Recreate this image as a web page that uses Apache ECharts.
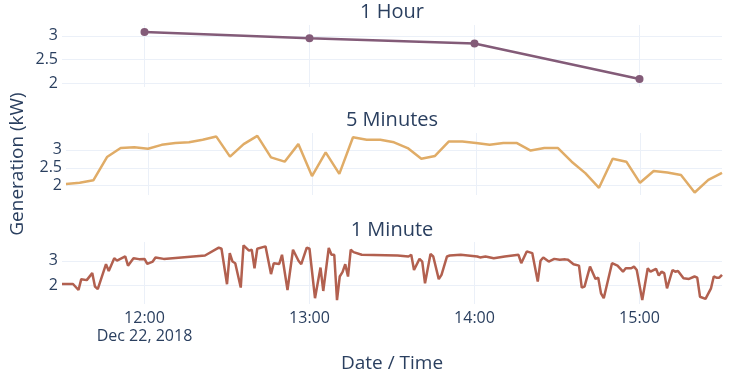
<!DOCTYPE html>
<html>
<head>
<meta charset="utf-8">
<script src="https://cdn.jsdelivr.net/npm/echarts@6/dist/echarts.min.js"></script>
<style>
  html, body { margin: 0; padding: 0; background: #fff; }
  #chart { width: 747px; height: 374px; }
</style>
</head>
<body>
<div id="chart"></div>
<script>
// readings, Dec 22 2018
const subplotTitles = ['1 Hour', '5 Minutes', '1 Minute']
const hourTicks = ['12:00', '13:00', '14:00', '15:00']

// hourly averages
const hourValues = [3.08, 2.95, 2.84, 2.09]

// 5 minute averages, 11:30 -> 15:30
const fiveMinValues = [
  2.05, 2.08, 2.15, 2.80, 3.05, 3.07, 3.03, 3.14, 3.19, 3.21, 3.28, 3.37,
  2.81, 3.16, 3.39, 2.79, 2.67, 3.16, 2.27, 2.93, 2.33, 3.35, 3.28, 3.28,
  3.21, 3.05, 2.75, 2.83, 3.23, 3.23, 3.19, 3.14, 3.19, 3.19, 2.98, 3.05,
  3.05, 2.67, 2.35, 1.94, 2.75, 2.67, 2.08, 2.41, 2.37, 2.30, 1.81, 2.16,
  2.36
]

// 1 minute readings: [minutes after 11:30, kW]
const oneMinReadings = [
  [0, 2.04], [4, 2.04], [6, 1.79], [7, 2.24], [9, 2.20], [11, 2.49], [12, 1.93], [13, 1.83],
  [16, 2.86], [17, 2.58], [19, 3.11], [20, 3.01], [23, 3.18], [24, 2.80], [26, 3.11], [28, 3.07],
  [30, 3.08], [31, 2.87], [33, 2.97], [34, 3.14], [37, 3.08], [52, 3.22], [57, 3.55], [58, 3.50],
  [60, 2.03], [61, 3.32], [62, 2.97], [63, 2.90], [65, 1.89], [66, 3.64], [68, 3.42], [69, 3.46],
  [70, 2.69], [71, 3.50], [74, 3.60], [76, 2.45], [77, 2.90], [79, 2.87], [80, 3.25], [82, 1.79],
  [84, 3.46], [86, 3.00], [87, 2.86], [89, 3.55], [90, 3.50], [92, 1.45], [94, 2.72], [95, 1.75],
  [97, 3.53], [98, 3.25], [99, 3.25], [100, 1.37], [101, 2.35], [102, 2.53], [103, 2.86], [104, 2.35],
  [105, 3.46], [106, 3.36], [109, 3.25], [122, 3.22], [126, 3.18], [127, 3.25], [128, 2.62], [130, 3.08],
  [131, 2.97], [132, 2.07], [134, 3.28], [135, 3.18], [137, 2.24], [138, 2.42], [140, 3.18], [141, 3.22],
  [145, 3.25], [151, 3.18], [152, 3.14], [154, 3.18], [157, 3.11], [161, 3.18], [166, 3.25], [167, 2.90],
  [169, 3.39], [171, 3.32], [173, 2.14], [174, 3.00], [175, 3.14], [177, 2.97], [179, 3.08], [181, 3.04],
  [183, 3.06], [184, 3.04], [186, 2.86], [188, 2.80], [189, 1.89], [190, 1.93], [192, 2.76], [194, 2.25],
  [195, 2.30], [196, 1.65], [197, 1.45], [200, 2.90], [202, 2.80], [204, 2.55], [205, 2.69], [207, 2.69],
  [208, 2.76], [209, 2.62], [211, 1.37], [213, 2.69], [214, 2.55], [216, 2.67], [217, 2.39], [218, 2.55],
  [219, 2.49], [220, 1.86], [222, 2.62], [223, 2.55], [224, 2.58], [226, 2.28], [228, 2.25], [230, 2.35],
  [231, 2.30], [232, 1.51], [234, 1.42], [236, 1.86], [237, 2.35], [238, 2.30], [239, 2.30], [240, 2.42]
]

const MIN = 60 * 1000
const start = Date.UTC(2018, 11, 22, 11, 30)
const end = Date.UTC(2018, 11, 22, 15, 30)
const toTs = hhmm => {
  const [h, m] = hhmm.split(':').map(Number)
  return Date.UTC(2018, 11, 22, h, m)
}
const hourTs = hourTicks.map(toTs)

const textColor = '#2a3f5f'
const gridColor = '#ebf0f8'
const font = '"Open Sans", "DejaVu Sans", sans-serif'

const grids = [
  { left: 62, right: 25, top: 25, height: 62 },
  { left: 62, right: 25, top: 133, height: 62 },
  { left: 62, right: 25, top: 242, height: 62 }
]

function fmtTime(v) {
  const d = new Date(v)
  return String(d.getUTCHours()).padStart(2, '0') + ':' + String(d.getUTCMinutes()).padStart(2, '0')
}

// x is plain value axis over timestamps (time axis chokes on customValues)
function makeX(i) {
  const last = i === 2
  return {
    type: 'value',
    gridIndex: i,
    min: start,
    max: end,
    axisLine: { show: false },
    axisTick: { show: false, customValues: hourTs },
    splitLine: { show: true, lineStyle: { color: gridColor, width: 1 } },
    axisLabel: {
      show: last,
      customValues: hourTs,
      margin: 5,
      color: textColor,
      fontFamily: font,
      fontSize: 16,
      lineHeight: 18,
      formatter: v => (v === hourTs[0] ? fmtTime(v) + '\nDec 22, 2018' : fmtTime(v))
    },
    name: last ? 'Date / Time' : '',
    nameLocation: 'middle',
    nameGap: 50,
    nameTextStyle: { color: textColor, fontFamily: font, fontSize: 19 }
  }
}

function makeY(i, min, max, ticks) {
  return {
    type: 'value',
    gridIndex: i,
    min: min,
    max: max,
    axisLine: { show: false },
    axisTick: { show: false, customValues: ticks },
    splitLine: { show: true, lineStyle: { color: gridColor, width: 1 } },
    axisLabel: {
      customValues: ticks,
      margin: 4,
      color: textColor,
      fontFamily: font,
      fontSize: 16,
      formatter: v => String(v)
    },
    name: i === 1 ? 'Generation (kW)' : '',
    nameLocation: 'middle',
    nameGap: 39,
    nameTextStyle: { color: textColor, fontFamily: font, fontSize: 19 }
  }
}

const chart = echarts.init(document.getElementById('chart'), null, { renderer: 'canvas' })

chart.setOption({
  animation: false,
  backgroundColor: '#fff',
  textStyle: { fontFamily: font },
  title: subplotTitles.map((t, i) => ({
    text: t,
    left: 392,
    top: [2, 110, 220][i],
    textAlign: 'center',
    padding: 0,
    textStyle: { color: textColor, fontFamily: font, fontSize: 20, fontWeight: 'normal' }
  })),
  grid: grids,
  xAxis: [makeX(0), makeX(1), makeX(2)],
  yAxis: [
    makeY(0, 1.92, 3.23, [2, 2.5, 3]),
    makeY(1, 1.74, 3.47, [2, 2.5, 3]),
    makeY(2, 1.21, 3.78, [2, 3])
  ],
  series: [
    {
      name: '1 Hour',
      type: 'line',
      xAxisIndex: 0,
      yAxisIndex: 0,
      data: hourTs.map((t, i) => [t, hourValues[i]]),
      symbol: 'circle',
      symbolSize: 8,
      showSymbol: true,
      lineStyle: { color: '#835b78', width: 2.5 },
      itemStyle: { color: '#835b78' }
    },
    {
      name: '5 Minutes',
      type: 'line',
      xAxisIndex: 1,
      yAxisIndex: 1,
      data: fiveMinValues.map((v, i) => [start + i * 5 * MIN, v]),
      showSymbol: false,
      lineStyle: { color: '#e0ac67', width: 2.5 },
      itemStyle: { color: '#e0ac67' }
    },
    {
      name: '1 Minute',
      type: 'line',
      xAxisIndex: 2,
      yAxisIndex: 2,
      data: oneMinReadings.map(r => [start + r[0] * MIN, r[1]]),
      showSymbol: false,
      lineStyle: { color: '#b2604f', width: 2.5 },
      itemStyle: { color: '#b2604f' }
    }
  ]
})
</script>
</body>
</html>
